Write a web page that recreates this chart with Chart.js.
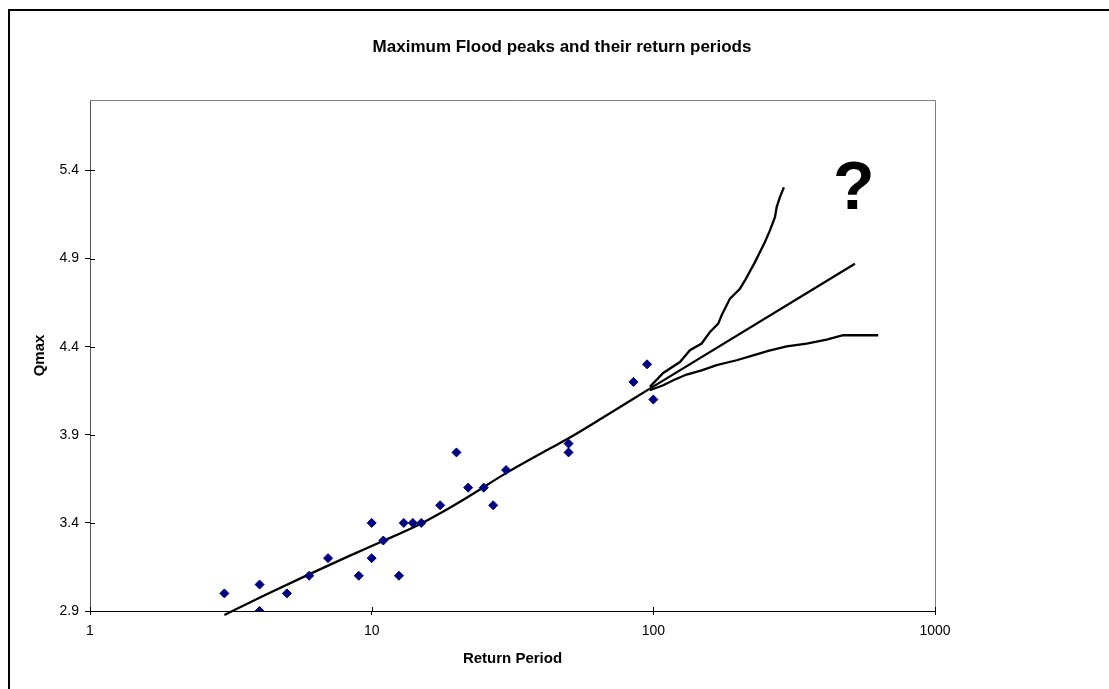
<!DOCTYPE html>
<html>
<head>
<meta charset="utf-8">
<script src="https://cdn.jsdelivr.net/npm/chart.js@4.4.1/dist/chart.umd.min.js"></script>
<style>
html,body{margin:0;padding:0;background:#fff;}
#wrap{width:1109px;height:689px;position:relative;}
canvas{display:block;}
</style>
</head>
<body>
<div id="wrap"><canvas id="c" width="1109" height="689"></canvas></div>
<script>
// ---- text ----
const titleText = 'Maximum Flood peaks and their return periods';
const xAxisTitle = 'Return Period';
const yAxisTitle = 'Qmax';
const markText = '?';

// ---- tick labels ----
const xTickValues = [1, 10, 100, 1000];
const yTickValues = [2.9, 3.4, 3.9, 4.4, 4.9, 5.4];

// ---- observed flood peaks ----
const obsReturnPeriod = [3, 4, 4, 5, 6, 7, 9, 10, 10, 11, 12.5, 13, 14, 15, 17.5, 20, 22, 25, 27, 30, 50, 50, 85, 95, 100];
const obsQmax = [3.0, 3.05, 2.9, 3.0, 3.1, 3.2, 3.1, 3.4, 3.2, 3.3, 3.1, 3.4, 3.4, 3.4, 3.5, 3.8, 3.6, 3.6, 3.5, 3.7, 3.85, 3.8, 4.2, 4.3, 4.1];

// ---- fitted curve ----
const fitT = [3, 4.24, 5.99, 8.15, 10.97, 14.45, 17.38, 21.74, 29.9, 42.9, 50, 68.3, 97.2];
const fitQ = [2.877, 2.995, 3.108, 3.206, 3.297, 3.384, 3.452, 3.543, 3.681, 3.822, 3.88, 4.011, 4.162];

// ---- extrapolation branches ----
const midT = [97.2, 519.6];
const midQ = [4.162, 4.871];
const upperT = [97.2, 108.4, 124.3, 134.9, 148.4, 158.9, 170.0, 174.8, 187.1, 203.0, 211.5, 229.5, 235.8, 249.0, 259.4, 270.3, 274.1, 281.5, 290.8];
const upperQ = [4.172, 4.251, 4.313, 4.380, 4.418, 4.483, 4.531, 4.578, 4.673, 4.729, 4.776, 4.880, 4.918, 4.994, 5.060, 5.135, 5.192, 5.249, 5.305];
const lowerT = [97.2, 108.4, 117.7, 131.3, 148.4, 167.8, 197.6, 226.2, 255.8, 297.3, 350.2, 412.3, 472.2, 628.6];
const lowerQ = [4.153, 4.181, 4.210, 4.242, 4.266, 4.295, 4.323, 4.351, 4.376, 4.402, 4.418, 4.440, 4.465, 4.465];

// position of the "?" annotation, in data units
const markT = 515;
const markQ = 5.287;

const FONT = '"Liberation Sans", Arial, Helvetica, sans-serif';
Chart.defaults.font.family = FONT;
Chart.defaults.color = '#000';

const pts = (xs, ys) => xs.map((v, i) => ({x: v, y: ys[i]}));

const lineDs = (data, extra) => Object.assign({
  type: 'scatter',
  data: data,
  showLine: true,
  borderColor: '#000',
  borderWidth: 2.3,
  pointRadius: 0,
  pointHoverRadius: 0,
  fill: false,
  clip: false,
  tension: 0
}, extra || {});

const decor = {
  id: 'decor',
  beforeDraw(chart) {
    const ctx = chart.ctx;
    ctx.save();
    ctx.fillStyle = '#fff';
    ctx.fillRect(0, 0, chart.width, chart.height);
    ctx.restore();
  },
  afterDraw(chart) {
    const {ctx, chartArea: a, scales: {x, y}} = chart;
    ctx.save();
    // outer chart frame
    ctx.strokeStyle = '#000';
    ctx.lineWidth = 2;
    ctx.strokeRect(9, 10, chart.width + 20, chart.height + 20);
    // plot-area top / right border
    ctx.strokeStyle = '#808080';
    ctx.lineWidth = 1;
    ctx.beginPath();
    ctx.moveTo(a.left, a.top + 0.5);
    ctx.lineTo(a.right + 0.5, a.top + 0.5);
    ctx.lineTo(a.right + 0.5, a.bottom);
    ctx.stroke();
    // inner halves of cross tick marks
    ctx.strokeStyle = '#000';
    ctx.beginPath();
    y.ticks.forEach(t => {
      const p = Math.round(y.getPixelForValue(t.value)) + 0.5;
      ctx.moveTo(a.left, p); ctx.lineTo(a.left + 5, p);
    });
    x.ticks.forEach(t => {
      const p = Math.round(x.getPixelForValue(t.value)) + 0.5;
      ctx.moveTo(p, a.bottom); ctx.lineTo(p, a.bottom - 4);
    });
    ctx.stroke();
    // chart title
    ctx.fillStyle = '#000';
    ctx.textAlign = 'center';
    ctx.textBaseline = 'middle';
    ctx.font = 'bold 17px ' + FONT;
    ctx.fillText(titleText, 562, 47);
    // question mark annotation
    ctx.font = 'bold 68px ' + FONT;
    ctx.fillText(markText, x.getPixelForValue(markT), y.getPixelForValue(markQ));
    ctx.restore();
  }
};

new Chart(document.getElementById('c'), {
  type: 'scatter',
  data: {
    datasets: [
      {
        type: 'scatter',
        label: 'Observed',
        data: pts(obsReturnPeriod, obsQmax),
        pointStyle: 'rectRot',
        pointRadius: 4.5,
        pointHoverRadius: 4.5,
        backgroundColor: '#000080',
        borderColor: '#000080',
        borderWidth: 1,
        showLine: false
      },
      lineDs(pts(fitT, fitQ), {label: 'Fit', cubicInterpolationMode: 'monotone'}),
      lineDs(pts(midT, midQ), {label: 'Middle'}),
      lineDs(pts(upperT, upperQ), {label: 'Upper'}),
      lineDs(pts(lowerT, lowerQ), {label: 'Lower'})
    ]
  },
  options: {
    responsive: false,
    animation: false,
    devicePixelRatio: 1,
    layout: {padding: {top: 100, left: 0, right: 174, bottom: 0}},
    plugins: {
      legend: {display: false},
      tooltip: {enabled: false},
      title: {display: false}
    },
    events: [],
    scales: {
      x: {
        type: 'logarithmic',
        position: 'bottom',
        min: 1,
        max: 1000,
        afterBuildTicks: s => { s.ticks = xTickValues.map(v => ({value: v, major: true})); },
        afterFit: s => { s.height = 78; },
        grid: {display: true, drawOnChartArea: false, drawTicks: true, tickLength: 4, color: '#000'},
        border: {display: true, color: '#000', width: 1},
        ticks: {
          font: {size: 14},
          color: '#000',
          padding: 8,
          autoSkip: false,
          maxRotation: 0,
          callback: v => String(v)
        },
        title: {
          display: true,
          text: xAxisTitle,
          font: {size: 15, weight: 'bold'},
          color: '#000',
          padding: {top: 0, bottom: 21}
        }
      },
      y: {
        type: 'linear',
        position: 'left',
        min: 2.9,
        max: 5.8,
        afterBuildTicks: s => { s.ticks = yTickValues.map(v => ({value: v})); },
        afterFit: s => { s.width = 90; },
        grid: {display: true, drawOnChartArea: false, drawTicks: true, tickLength: 5, color: '#000'},
        border: {display: true, color: '#555', width: 1},
        ticks: {
          font: {size: 14},
          color: '#000',
          padding: 6,
          callback: v => Number(v).toFixed(1)
        },
        title: {
          display: true,
          text: yAxisTitle,
          font: {size: 15, weight: 'bold'},
          color: '#000',
          padding: {top: 31, bottom: 0}
        }
      }
    }
  },
  plugins: [decor]
});
</script>
</body>
</html>
